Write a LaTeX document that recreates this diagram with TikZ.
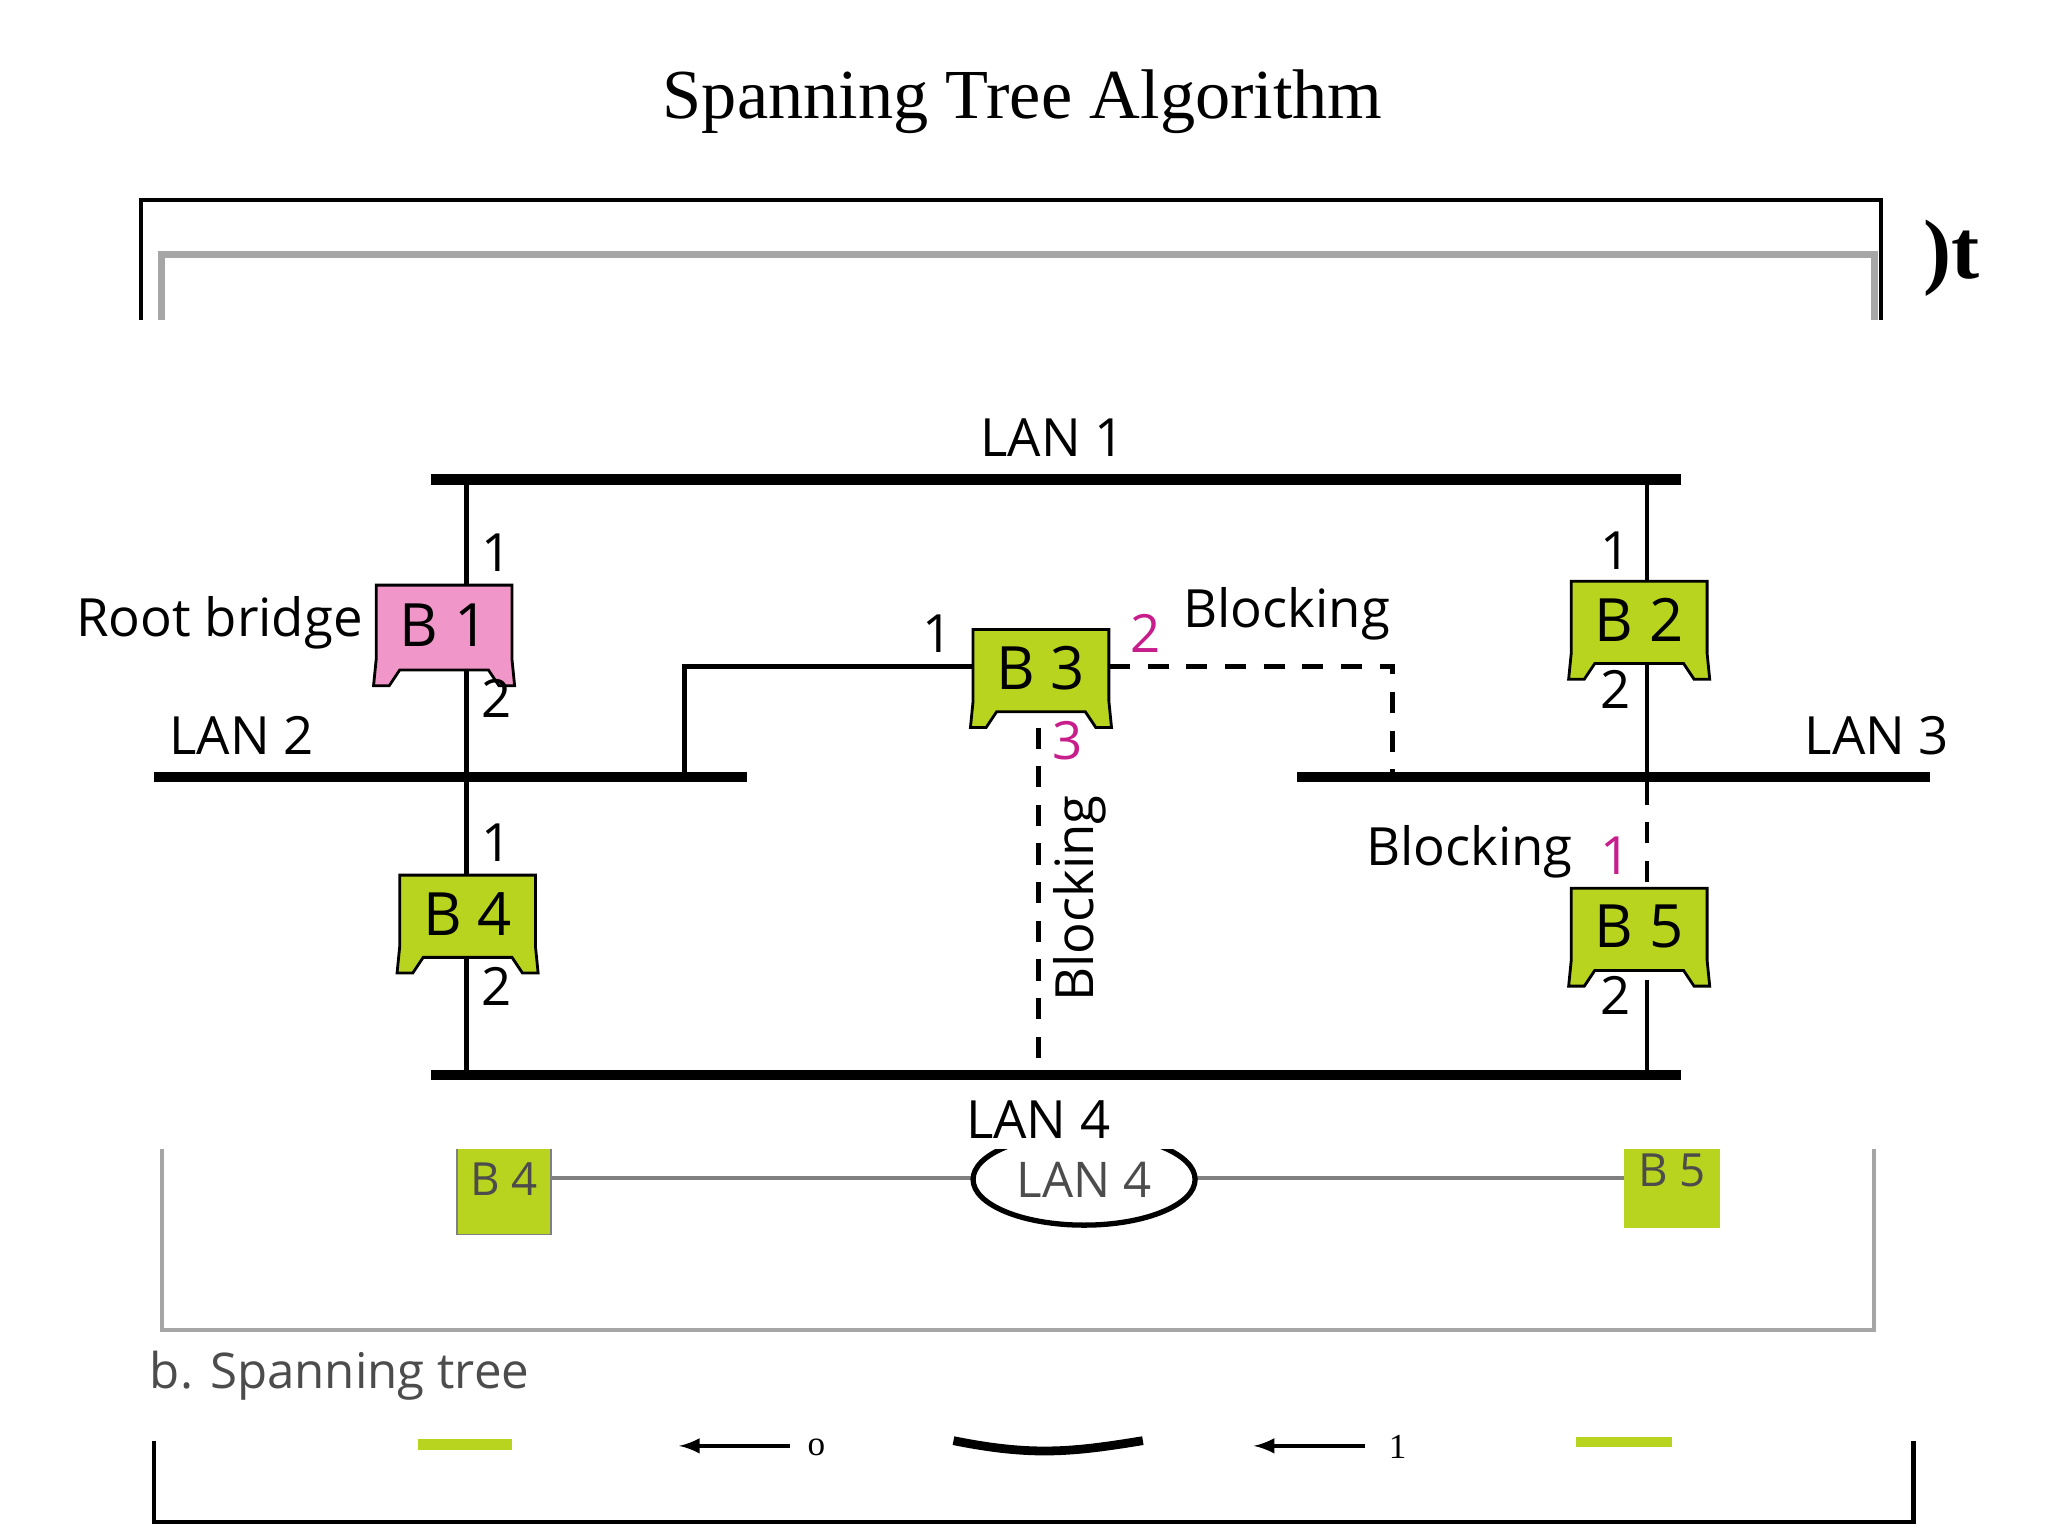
\documentclass[tikz,border=0pt]{standalone}
\usepackage{fontspec}
\setmainfont{Liberation Serif}
\newfontfamily\lanfont{Open Sans}
\begin{document}
\begin{tikzpicture}[x=0.01306cm,y=-0.01306cm]
\definecolor{brg}{RGB}{184,212,30}
\definecolor{root}{RGB}{240,150,200}
\definecolor{mag}{RGB}{200,30,140}
\tikzset{
  lan/.style={line width=3pt},
  link/.style={line width=1.4pt},
  block/.style={line width=1.4pt,dash pattern=on 6pt off 5pt},
  lbl/.style={font=\lanfont\fontsize{15}{17}\selectfont,inner sep=0pt},
  num/.style={font=\lanfont\fontsize{15}{17}\selectfont,inner sep=0pt},
  frag/.style={line width=1.2pt,gray!70}
}
% bridge box: left, top, width, height, colour, name, text
\newcommand{\brbox}[7]{%
  \draw[line width=0.8pt,fill=#5] (#1,#2) -- ++(#3,0) -- ++(0,#4-20) -- ++(2,20) -- ++(-12,0)
    -- ++(-8,-12) -- ++(-#3+36,0) -- ++(-8,12) -- ++(-12,0) -- ++(2,-20) -- cycle;
  \node[lbl,font=\lanfont\fontsize{17}{19}\selectfont] (#6) at (#1+#3/2,#2+#4/2-8) {#7};}
\useasboundingbox (0,0) rectangle (1568,1176);
\fill[white] (0,0) rectangle (1568,1176);

% title and frame fragments
\node[font=\fontsize{20}{24}\selectfont] (title) at (783,78) {Spanning Tree Algorithm};
\draw[line width=1.2pt] (108,245) -- (108,153) -- (1440,153) -- (1440,245);
\draw[frag,line width=2pt] (124,245) -- (124,195) -- (1435,195) -- (1435,245);
\node[font=\bfseries\fontsize{24}{26}\selectfont,inner sep=0pt] (frag) at (1494,198) {\char"29t};

% LAN segments
\draw[lan] (330,367) coordinate (l1w) -- (1287,367) coordinate (l1e);
\draw[lan] (118,595) coordinate (l2w) -- (572,595) coordinate (l2e);
\draw[lan] (993,595) coordinate (l3w) -- (1478,595) coordinate (l3e);
\draw[lan] (330,823) coordinate (l4w) -- (1287,823) coordinate (l4e);
\node[lbl] (lan1) at (806,335) {LAN 1};
\node[lbl] (lan2) at (185,563) {LAN 2};
\node[lbl] (lan3) at (1437,563) {LAN 3};
\node[lbl] (lan4) at (795,857) {LAN 4};

% connections
\draw[link] (357,367) -- (357,823);
\draw[link] (1261,367) -- (1261,600);
\draw[block] (1261,600) -- (1261,680);
\draw[link] (1261,750) -- (1261,823);
\draw[link] (745,510) -- (524,510) -- (524,595);
\draw[block] (849,510) -- (1066,510) -- (1066,595);
\draw[block] (795,557) -- (795,823);

% bridges
\brbox{288}{448}{104}{77}{root}{b1}{B 1}
\brbox{745}{482}{104}{75}{brg}{b3}{B 3}
\brbox{1203}{445}{104}{75}{brg}{b2}{B 2}
\brbox{306}{670}{104}{75}{brg}{b4}{B 4}
\brbox{1203}{680}{104}{75}{brg}{b5}{B 5}

% port numbers
\node[num] at (380,423) {1};
\node[num] at (380,535) {2};
\node[num] at (718,485) {1};
\node[num,mag] at (877,485) {2};
\node[num,mag] at (817,567) {3};
\node[num] at (1237,422) {1};
\node[num] at (1237,528) {2};
\node[num] at (380,645) {1};
\node[num] at (380,755) {2};
\node[num,mag] at (1237,655) {1};
\node[num] at (1237,762) {2};
\node[lbl] (root) at (168,477) {Root bridge};
\node[lbl] (blk1) at (985,470) {Blocking};
\node[lbl] (blk2) at (1125,652) {Blocking};
\node[lbl,rotate=90] (blk3) at (827,688) {Blocking};

% lower fragment
\begin{scope}
\clip (0,880) rectangle (1568,1176);
\draw[frag] (124,880) -- (124,1018) -- (1435,1018) -- (1435,880);
\draw[frag,gray] (422,902) -- (745,902);
\draw[frag,gray] (915,902) -- (1243,902);
\draw[line width=1.5pt,fill=white] (830,903) ellipse (85 and 35);
\node[font=\lanfont\fontsize{14}{16}\selectfont,gray!60!black,inner sep=0pt] (f4) at (830,903) {LAN 4};
\fill[brg] (350,875) rectangle (422,945);
\draw[gray] (350,875) -- (350,945) -- (422,945) -- (422,875);
\node[font=\lanfont\fontsize{13}{15}\selectfont,gray!60!black,inner sep=0pt] at (386,903) {B 4};
\fill[brg] (1243,875) rectangle (1317,940);
\node[font=\lanfont\fontsize{13}{15}\selectfont,gray!60!black,inner sep=0pt] at (1280,896) {B 5};
\end{scope}
\node[font=\lanfont\fontsize{14}{16}\selectfont,gray!60!black,inner sep=0pt] (cap) at (260,1053) {b. Spanning tree};
\draw[line width=1.2pt] (118,1103) -- (118,1165) -- (1465,1165) -- (1465,1103);
\fill[brg] (320,1102) rectangle (392,1110);
\fill[brg] (1207,1100) rectangle (1280,1108);
\draw[-latex,line width=1pt] (605,1107) -- (520,1107);
\node[inner sep=0pt] at (625,1108) {o};
\draw[line width=2.5pt] (730,1103) .. controls (790,1115) and (820,1112) .. (875,1103);
\draw[-latex,line width=1pt] (1045,1107) -- (960,1107);
\node[inner sep=0pt] at (1070,1108) {1};
\end{tikzpicture}
\end{document}
